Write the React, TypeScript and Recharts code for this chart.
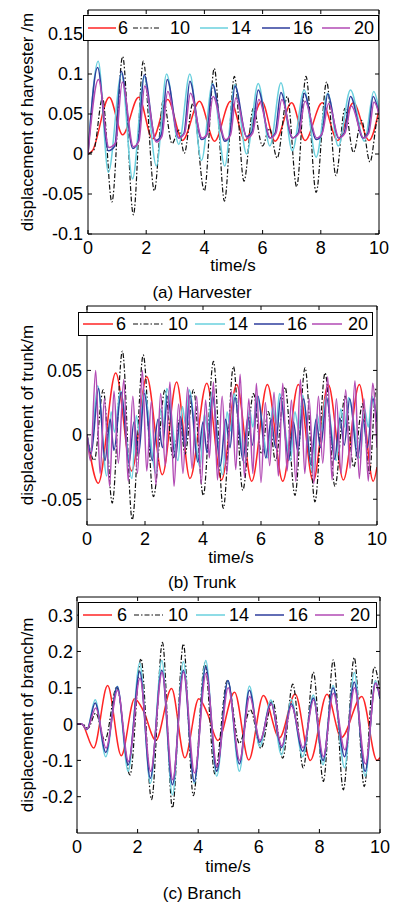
import React from 'react'
import { LineChart, Line, XAxis, YAxis } from 'recharts'

const FONT = '"Liberation Sans", Arial, Helvetica, sans-serif'

// legend entries / colours
const legendNames = ['6', '10', '14', '16', '20']
const COLORS = ['#ff2525', '#111111', '#6ad0de', '#2e3d9c', '#b24ab4']
const timeTicks = [0, 2, 4, 6, 8, 10]

// (a) harvester  [time s, displacement m] – peaks / troughs
const harvester6 = [[0, 0], [0.15, 0.004], [0.73, 0.071], [1.19, 0.024], [1.74, 0.071], [2.22, 0.019], [2.74, 0.068], [3.25, 0.017], [3.83, 0.066], [4.35, 0.016], [4.9, 0.066], [5.4, 0.017], [5.97, 0.066], [6.43, 0.016], [7.0, 0.064], [7.46, 0.017], [8.05, 0.064], [8.58, 0.017], [9.12, 0.064], [9.66, 0.017], [10, 0.055]]
const harvester10 = [[0, 0], [0.2, 0.005], [0.5, 0.07], [0.82, -0.06], [1.19, 0.122], [1.56, -0.076], [1.9, 0.116], [2.28, -0.046], [2.59, 0.068], [2.89, 0.013], [3.12, 0.03], [3.31, 0.001], [3.6, 0.063], [4.0, -0.046], [4.34, 0.107], [4.69, -0.059], [5.03, 0.097], [5.36, -0.034], [5.68, 0.057], [6.0, 0.01], [6.23, 0.032], [6.5, -0.005], [6.85, 0.072], [7.17, -0.041], [7.49, 0.097], [7.84, -0.048], [8.2, 0.09], [8.52, -0.027], [8.83, 0.057], [9.12, 0.002], [9.4, 0.042], [9.69, -0.01], [9.97, 0.045], [10, 0.044]]
const harvester14 = [[0, 0], [0.35, 0.116], [0.7, -0.023], [1.15, 0.1], [1.53, -0.031], [1.93, 0.097], [2.35, -0.015], [2.7, 0.1], [3.12, 0.012], [3.5, 0.1], [3.9, -0.008], [4.28, 0.088], [4.7, -0.015], [5.05, 0.087], [5.45, 0.0], [5.85, 0.088], [6.25, 0.01], [6.63, 0.089], [7.02, 0.004], [7.43, 0.08], [7.84, -0.004], [8.24, 0.076], [8.6, 0.01], [9.02, 0.08], [9.5, 0.016], [9.82, 0.078], [10, 0.055]]
const harvester16 = [[0, 0], [0.33, 0.108], [0.7, 0.004], [0.92, 0.01], [1.14, 0.1035], [1.54, 0.007], [1.72, 0.015], [1.93, 0.099], [2.33, 0.017], [2.52, 0.024], [2.72, 0.093], [3.12, 0.02], [3.3, 0.026], [3.5, 0.091], [3.9, 0.018], [4.08, 0.024], [4.28, 0.087], [4.7, 0.016], [4.86, 0.022], [5.05, 0.085], [5.45, 0.022], [5.64, 0.028], [5.85, 0.08], [6.25, 0.02], [6.43, 0.026], [6.63, 0.077], [7.02, 0.02], [7.22, 0.026], [7.43, 0.076], [7.84, 0.018], [8.03, 0.024], [8.24, 0.075], [8.6, 0.02], [8.8, 0.026], [9.02, 0.072], [9.45, 0.02], [9.62, 0.026], [9.8, 0.072], [10, 0.05]]
const harvester20 = [[0, 0], [0.36, 0.093], [0.72, 0.008], [0.95, 0.014], [1.18, 0.09], [1.56, 0.009], [1.75, 0.016], [1.95, 0.085], [2.35, 0.015], [2.54, 0.022], [2.74, 0.078], [3.13, 0.02], [3.32, 0.026], [3.52, 0.076], [3.92, 0.02], [4.1, 0.025], [4.3, 0.072], [4.72, 0.018], [4.9, 0.024], [5.08, 0.07], [5.47, 0.02], [5.66, 0.026], [5.87, 0.068], [6.27, 0.02], [6.46, 0.026], [6.66, 0.068], [7.04, 0.02], [7.25, 0.026], [7.46, 0.066], [7.86, 0.02], [8.05, 0.026], [8.27, 0.063], [8.63, 0.02], [8.83, 0.026], [9.05, 0.06], [9.47, 0.02], [9.65, 0.026], [9.83, 0.065], [10, 0.05]]

// (b) trunk
const trunk6 = [[0, 0], [0.39, -0.0375], [0.99, 0.048], [1.54, -0.028], [2.06, 0.045], [2.6, -0.031], [3.09, 0.041], [3.55, -0.034], [4.13, 0.04], [4.64, -0.035], [5.16, 0.039], [5.68, -0.036], [6.22, 0.039], [6.75, -0.036], [7.29, 0.039], [7.8, -0.036], [8.32, 0.039], [8.84, -0.035], [9.39, 0.039], [9.87, -0.036], [10, -0.025]]
const trunk10 = [[0, 0], [0.25, -0.02], [0.56, 0.035], [0.87, -0.053], [1.22, 0.065], [1.56, -0.066], [1.94, 0.062], [2.29, -0.048], [2.69, 0.035], [2.97, -0.018], [3.2, 0.012], [3.38, -0.015], [3.67, 0.035], [4.01, -0.047], [4.36, 0.057], [4.7, -0.057], [5.05, 0.053], [5.37, -0.043], [5.74, 0.032], [6.02, -0.015], [6.25, 0.018], [6.5, -0.02], [6.83, 0.037], [7.17, -0.047], [7.52, 0.052], [7.86, -0.052], [8.21, 0.048], [8.55, -0.04], [8.9, 0.03], [9.2, -0.025], [9.5, 0.024], [9.74, -0.03], [9.97, 0.036], [10, 0.035]]
const trunk14 = [[0, 0], [0.12, -0.012], [0.37, 0.038], [0.68, -0.032], [0.83, 0.018], [0.95, 0.002], [1.15, 0.034], [1.55, -0.034], [1.7, 0.015], [1.81, 0.0], [1.96, 0.035], [2.38, -0.03], [2.53, 0.02], [2.63, 0.006], [2.75, 0.036], [3.14, -0.02], [3.29, 0.022], [3.4, 0.008], [3.52, 0.035], [3.9, -0.025], [4.05, 0.016], [4.17, 0.002], [4.3, 0.033], [4.68, -0.031], [4.83, 0.018], [4.95, 0.003], [5.07, 0.032], [5.45, -0.022], [5.6, 0.02], [5.72, 0.006], [5.86, 0.03], [6.25, -0.018], [6.4, 0.022], [6.52, 0.008], [6.64, 0.032], [7.02, -0.02], [7.17, 0.018], [7.3, 0.004], [7.43, 0.031], [7.78, -0.029], [7.93, 0.016], [8.06, 0.002], [8.24, 0.03], [8.6, -0.02], [8.75, 0.02], [8.88, 0.006], [9.02, 0.029], [9.42, -0.018], [9.57, 0.02], [9.7, 0.006], [9.82, 0.03], [10, 0.01]]
const trunk16 = [[0, 0], [0.14, -0.015], [0.4, 0.036], [0.62, -0.02], [0.8, 0.012], [0.93, -0.012], [1.18, 0.033], [1.45, -0.022], [1.62, 0.01], [1.78, -0.015], [1.98, 0.032], [2.25, -0.02], [2.45, 0.012], [2.6, -0.01], [2.78, 0.03], [3.05, -0.018], [3.22, 0.014], [3.38, -0.01], [3.55, 0.031], [3.82, -0.021], [4.0, 0.01], [4.14, -0.014], [4.33, 0.03], [4.6, -0.024], [4.78, 0.012], [4.93, -0.01], [5.1, 0.029], [5.38, -0.02], [5.55, 0.014], [5.7, -0.008], [5.9, 0.03], [6.17, -0.018], [6.35, 0.012], [6.5, -0.01], [6.68, 0.029], [6.95, -0.02], [7.12, 0.01], [7.27, -0.013], [7.47, 0.028], [7.72, -0.023], [7.9, 0.012], [8.05, -0.01], [8.27, 0.028], [8.54, -0.019], [8.72, 0.013], [8.87, -0.008], [9.06, 0.028], [9.33, -0.018], [9.52, 0.012], [9.67, -0.01], [9.86, 0.028], [10, 0.01]]
const trunk20 = [[0, 0], [0.12, -0.02], [0.3, 0.05], [0.45, -0.03], [0.6, 0.028], [0.78, -0.04], [0.93, 0.034], [1.08, -0.022], [1.27, 0.043], [1.42, -0.036], [1.58, 0.03], [1.74, -0.03], [1.91, 0.05], [2.06, -0.028], [2.22, 0.026], [2.38, -0.039], [2.54, 0.032], [2.7, -0.024], [2.86, 0.041], [3.0, -0.04], [3.16, 0.024], [3.31, -0.03], [3.47, 0.037], [3.62, -0.026], [3.78, 0.03], [3.94, -0.038], [4.09, 0.027], [4.22, -0.018], [4.36, 0.041], [4.5, -0.035], [4.66, 0.03], [4.82, -0.03], [4.98, 0.034], [5.13, -0.027], [5.28, 0.047], [5.43, -0.033], [5.58, 0.028], [5.72, -0.03], [5.84, 0.04], [6.0, -0.037], [6.15, 0.025], [6.3, -0.024], [6.45, 0.033], [6.6, -0.032], [6.75, 0.04], [6.9, -0.028], [7.05, 0.027], [7.2, -0.036], [7.36, 0.043], [7.51, -0.03], [7.66, 0.028], [7.82, -0.038], [7.98, 0.03], [8.13, -0.022], [8.3, 0.045], [8.45, -0.035], [8.6, 0.028], [8.76, -0.03], [8.92, 0.035], [9.07, -0.026], [9.24, 0.042], [9.39, -0.034], [9.55, 0.028], [9.7, -0.036], [9.85, 0.04], [10, -0.01]]

// (c) branch
const branch6 = [[0, 0], [0.15, 0], [0.55, -0.066], [1.01, 0.106], [1.46, -0.087], [1.9, 0.07], [2.2, 0.035], [2.6, -0.045], [3.12, 0.098], [3.56, -0.093], [4.02, 0.07], [4.3, 0.03], [4.65, -0.045], [5.2, 0.088], [5.67, -0.099], [6.15, 0.079], [6.68, -0.038], [7.2, 0.083], [7.7, -0.1], [8.25, 0.082], [8.72, -0.037], [9.4, 0.076], [9.9, -0.1], [10, -0.092]]
const branch10 = [[0, 0], [0.18, 0], [0.36, -0.012], [0.62, 0.03], [0.92, -0.045], [1.31, 0.102], [1.75, -0.14], [2.11, 0.18], [2.46, -0.208], [2.82, 0.225], [3.15, -0.231], [3.51, 0.221], [3.84, -0.197], [4.22, 0.168], [4.55, -0.137], [4.96, 0.12], [5.36, -0.053], [5.72, 0.04], [6.07, -0.067], [6.45, 0.065], [6.79, -0.094], [7.12, 0.11], [7.47, -0.121], [7.8, 0.143], [8.13, -0.158], [8.46, 0.177], [8.79, -0.181], [9.15, 0.183], [9.48, -0.172], [9.81, 0.157], [10, 0.09]]
const branch14 = [[0, 0], [0.15, 0], [0.33, -0.015], [0.6, 0.067], [0.95, -0.09], [1.33, 0.104], [1.69, -0.13], [2.07, 0.168], [2.42, -0.163], [2.8, 0.175], [3.15, -0.195], [3.51, 0.172], [3.87, -0.163], [4.25, 0.175], [4.61, -0.144], [4.98, 0.12], [5.36, -0.13], [5.69, 0.105], [6.03, -0.062], [6.4, 0.066], [6.75, -0.085], [7.07, 0.068], [7.45, -0.09], [7.8, 0.08], [8.12, -0.112], [8.45, 0.106], [8.83, -0.12], [9.15, 0.142], [9.51, -0.144], [9.85, 0.12], [10, 0.07]]
const branch16 = [[0, 0], [0.15, 0], [0.33, -0.015], [0.6, 0.058], [0.95, -0.078], [1.33, 0.103], [1.69, -0.112], [2.07, 0.145], [2.42, -0.149], [2.8, 0.148], [3.15, -0.167], [3.51, 0.148], [3.87, -0.158], [4.25, 0.158], [4.61, -0.13], [4.98, 0.12], [5.36, -0.11], [5.69, 0.093], [6.03, -0.05], [6.4, 0.058], [6.75, -0.065], [7.07, 0.056], [7.45, -0.075], [7.8, 0.072], [8.12, -0.1], [8.45, 0.1], [8.83, -0.09], [9.15, 0.116], [9.51, -0.13], [9.85, 0.113], [10, 0.07]]
const branch20 = [[0, 0], [0.15, 0], [0.33, -0.014], [0.62, 0.044], [0.96, -0.066], [1.34, 0.093], [1.7, -0.103], [2.08, 0.126], [2.43, -0.13], [2.81, 0.143], [3.16, -0.153], [3.52, 0.143], [3.88, -0.135], [4.26, 0.14], [4.62, -0.117], [4.99, 0.1], [5.37, -0.1], [5.7, 0.076], [6.04, -0.045], [6.41, 0.055], [6.76, -0.06], [7.08, 0.05], [7.46, -0.065], [7.81, 0.066], [8.13, -0.09], [8.46, 0.085], [8.84, -0.071], [9.16, 0.1], [9.52, -0.11], [9.86, 0.113], [10, 0.075]]

const harvesterTicks = [-0.1, -0.05, 0, 0.05, 0.1, 0.15]
const trunkTicks = [-0.05, 0, 0.05]
const branchTicks = [-0.2, -0.1, 0, 0.1, 0.2, 0.3]

const toPts = (a: number[][]) => a.map(([t, v]) => ({ t, v }))

const TICK_LEN = 4
const widthOf = (i: number) => (i === 1 ? 1.2 : 1.5)
const dashOf = (i: number) => (i === 1 ? '5 2 1.5 2' : undefined)

function BottomTick(props: any) {
  const { x, y, payload } = props
  return (
    <g>
      <line x1={x} y1={y} x2={x} y2={y - TICK_LEN} stroke="#000" />
      <text x={x} y={y + 20} textAnchor="middle" fontSize={18} fontFamily={FONT} fill="#000">
        {String(payload.value)}
      </text>
    </g>
  )
}

function TopTick(props: any) {
  const { x, y } = props
  return <line x1={x} y1={y} x2={x} y2={y + TICK_LEN} stroke="#000" />
}

function LeftTick(props: any) {
  const { x, y, payload, gap } = props
  return (
    <g>
      <line x1={x} y1={y} x2={x + TICK_LEN} y2={y} stroke="#000" />
      <text x={x - gap} y={y} dy="0.36em" textAnchor="end" fontSize={18} fontFamily={FONT} fill="#000">
        {String(payload.value)}
      </text>
    </g>
  )
}

function RightTick(props: any) {
  const { x, y } = props
  return <line x1={x} y1={y} x2={x - TICK_LEN} y2={y} stroke="#000" />
}

interface PanelProps {
  top: number
  height: number
  // plot box in chart coordinates
  box: { left: number; right: number; top: number; bottom: number }
  domain: number[]
  ticks: number[]
  series: number[][][]
  gap: number
}

function Panel({ top, height, box, domain, ticks, series, gap }: PanelProps) {
  // axes take 1px each, so margins are pulled in by 1
  const margin = { top: box.top - 1, left: box.left - 1, right: 395 - box.right - 1, bottom: height - box.bottom - 1 }
  return (
    <div style={{ position: 'absolute', left: 0, top, width: 395, height }}>
      <LineChart width={395} height={height} margin={margin}>
        <XAxis xAxisId="b" type="number" dataKey="t" domain={[0, 10]} ticks={timeTicks} interval={0}
          allowDataOverflow height={1} tickSize={0} tickMargin={0} stroke="#000" tick={(p: any) => <BottomTick {...p} />} />
        <XAxis xAxisId="top" orientation="top" type="number" dataKey="t" domain={[0, 10]} ticks={timeTicks} interval={0}
          allowDataOverflow height={1} tickSize={0} tickMargin={0} stroke="#000" tick={(p: any) => <TopTick {...p} />} />
        <YAxis yAxisId="l" type="number" domain={domain} ticks={ticks} interval={0} allowDataOverflow
          width={1} tickSize={0} tickMargin={0} stroke="#000" tick={(p: any) => <LeftTick {...p} gap={gap} />} />
        <YAxis yAxisId="r" orientation="right" type="number" domain={domain} ticks={ticks} interval={0} allowDataOverflow
          width={1} tickSize={0} tickMargin={0} stroke="#000" tick={(p: any) => <RightTick {...p} />} />
        {series.map((s, i) => (
          <Line
            key={i}
            xAxisId="b"
            yAxisId="l"
            data={toPts(s)}
            dataKey="v"
            type="monotone"
            stroke={COLORS[i]}
            strokeWidth={widthOf(i)}
            strokeDasharray={dashOf(i)}
            dot={false}
            activeDot={false}
            isAnimationActive={false}
          />
        ))}
      </LineChart>
    </div>
  )
}

function LegendBox({ left, top, width, height, lines, texts, len }: any) {
  return (
    <div style={{ position: 'absolute', left, top, width, height, boxSizing: 'border-box', border: '1px solid #000', background: '#fff' }}>
      <svg width={width - 2} height={height - 2} style={{ position: 'absolute', left: 0, top: 0 }}>
        {legendNames.map((n, i) => (
          <g key={n}>
            <line x1={lines[i] - left - 1} x2={lines[i] - left - 1 + len} y1={(height - 2) / 2} y2={(height - 2) / 2}
              stroke={COLORS[i]} strokeWidth={widthOf(i)} strokeDasharray={dashOf(i)} />
            <text x={texts[i] - left - 1} y={(height - 2) / 2} dy="0.36em" fontSize={18} fontFamily={FONT} fill="#000">{n}</text>
          </g>
        ))}
      </svg>
    </div>
  )
}

const textStyle: React.CSSProperties = {
  position: 'absolute', fontFamily: FONT, fontSize: 17, color: '#000', whiteSpace: 'nowrap', lineHeight: 1,
}

function YTitle({ cy, text }: { cy: number; text: string }) {
  return <div style={{ ...textStyle, left: 27, top: cy, transform: 'translate(-50%, -50%) rotate(-90deg)' }}>{text}</div>
}

function Centered({ cx, cy, text }: { cx: number; cy: number; text: string }) {
  return <div style={{ ...textStyle, left: cx, top: cy, transform: 'translate(-50%, -50%)' }}>{text}</div>
}

export default function App() {
  return (
    <div style={{ position: 'absolute', left: 0, top: 0, width: 395, height: 903, background: '#fff', overflow: 'hidden' }}>
      <Panel top={0} height={300} box={{ left: 88, right: 379, top: 10, bottom: 234 }}
        domain={[-0.1, 0.18]} ticks={harvesterTicks} gap={5}
        series={[harvester6, harvester10, harvester14, harvester16, harvester20]} />
      <LegendBox left={83} top={15} width={296} height={26} len={28}
        lines={[88, 133, 200, 262, 322]} texts={[118, 170, 231, 293, 354]} />
      <YTitle cy={122} text="displacement of harvester /m" />
      <Centered cx={233} cy={265} text="time/s" />
      <Centered cx={202} cy={292} text="(a) Harvester" />

      <Panel top={300} height={290} box={{ left: 87, right: 377, top: 6, bottom: 225 }}
        domain={[-0.07, 0.1]} ticks={trunkTicks} gap={5}
        series={[trunk6, trunk10, trunk14, trunk16, trunk20]} />
      <LegendBox left={78} top={312} width={295} height={24} len={30}
        lines={[83, 133, 195, 254, 312]} texts={[116, 168, 228, 287, 348]} />
      <YTitle cy={415} text="displacement of trunk/m" />
      <Centered cx={231} cy={557} text="time/s" />
      <Centered cx={202} cy={582} text="(b) Trunk" />

      <Panel top={590} height={313} box={{ left: 77, right: 380, top: 7, bottom: 243 }}
        domain={[-0.3, 0.35]} ticks={branchTicks} gap={4}
        series={[branch6, branch10, branch14, branch16, branch20]} />
      <LegendBox left={78} top={602} width={299} height={26} len={29}
        lines={[83, 134, 196, 255, 315]} texts={[117, 168, 229, 288, 350]} />
      <YTitle cy={715} text="displacement of branch/m" />
      <Centered cx={228} cy={866} text="time/s" />
      <Centered cx={202} cy={893} text="(c) Branch" />
    </div>
  )
}
